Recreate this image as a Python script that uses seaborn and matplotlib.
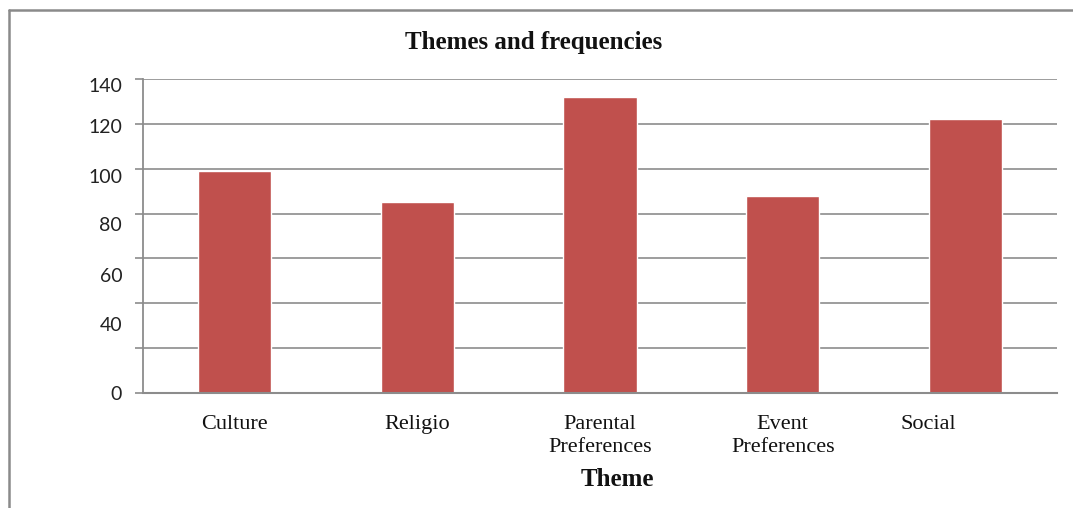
import matplotlib
matplotlib.use("Agg")
import matplotlib.pyplot as plt
import matplotlib.transforms as mtransforms
from matplotlib.lines import Line2D
import seaborn as sns

# data
themes = ["Culture", "Religio", "Parental\nPreferences", "Event\nPreferences", "Social"]
counts = [99, 85, 132, 88, 122]
y_ticks = [0, 20, 40, 60, 80, 100, 120, 140]
y_labels = ["0", "", "40", "60", "80", "100", "120", "140"]

bar_color = "#C0504D"
grid_color = "#8c8c8c"

sns.set_theme(style="white")
plt.rcParams["font.family"] = ["Liberation Serif", "DejaVu Serif"]

fig = plt.figure(figsize=(10.73, 5.08), dpi=100)
ax = fig.add_axes([143 / 1073, 1 - 393 / 508, 914 / 1073, 314 / 508])

sns.barplot(x=themes, y=counts, color=bar_color, saturation=1, width=0.4, ax=ax)

ax.set_xlim(-0.5, 4.5)
ax.set_ylim(0, 140)
ax.set_yticks(y_ticks)
ax.set_yticklabels(y_labels, fontfamily="Lato", fontsize=14, color="#222222")
ax.set_axisbelow(True)
ax.yaxis.grid(True, color=grid_color, linewidth=1.2)

for side in ["top", "right"]:
    ax.spines[side].set_visible(False)
ax.spines["left"].set_color(grid_color)
ax.spines["left"].set_linewidth(1.3)
ax.spines["bottom"].set_color(grid_color)
ax.spines["bottom"].set_linewidth(1.5)

ax.tick_params(axis="y", which="major", left=True, length=6, width=1.2,
               color=grid_color, pad=9)
ax.tick_params(axis="x", length=0, pad=16, labelsize=16, labelcolor="#111111")
for lbl in ax.get_xticklabels():
    lbl.set_linespacing(1.3)

# the y labels in the original sit a little below their gridlines
shifts_px = [0, 0, 21, 17, 10, 7, 2, 6]
for lbl, dy in zip(ax.get_yticklabels(), shifts_px):
    off = mtransforms.ScaledTranslation(0, -dy / 100, fig.dpi_scale_trans)
    lbl.set_transform(lbl.get_transform() + off)

# "Social" label is set off to the left in the original
social = ax.get_xticklabels()[4]
social.set_transform(social.get_transform() +
                     mtransforms.ScaledTranslation(-37 / 100, 0, fig.dpi_scale_trans))

ax.set_xlabel("Theme", fontsize=18, fontweight="bold", color="#111111")
ax.xaxis.set_label_coords((617 - 143) / 914, -0.24)
ax.set_ylabel("")

fig.text(534 / 1073, 1 - 43 / 508, "Themes and frequencies", ha="center", va="center",
         fontsize=18, fontweight="bold", color="#111111")

# outer frame (left and top edges only)
fig.add_artist(Line2D([9 / 1073, 9 / 1073], [0, 1 - 10 / 508], color="#8a8a8a",
                      linewidth=1.8, transform=fig.transFigure))
fig.add_artist(Line2D([9 / 1073, 1], [1 - 10 / 508, 1 - 10 / 508], color="#8a8a8a",
                      linewidth=1.8, transform=fig.transFigure))

fig.savefig("out.png", dpi=100, facecolor="white")
